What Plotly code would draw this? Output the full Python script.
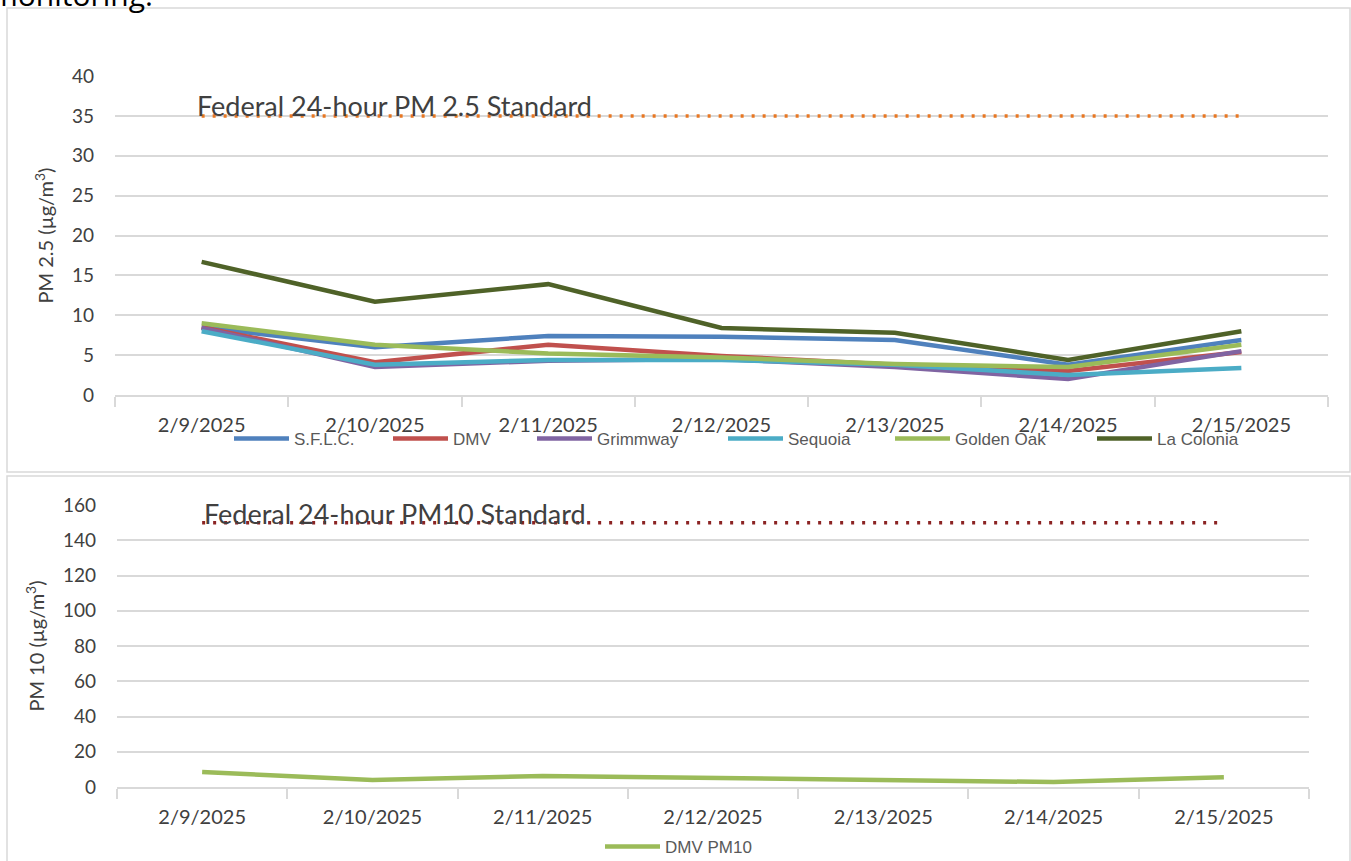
import plotly.graph_objects as go

# ---------------- data ----------------
dates = ["2/9/2025", "2/10/2025", "2/11/2025", "2/12/2025", "2/13/2025", "2/14/2025", "2/15/2025"]
sflc = [8.5, 6.0, 7.4, 7.3, 6.9, 3.8, 6.9]
dmv = [8.5, 4.1, 6.3, 4.9, 3.8, 3.0, 5.4]
grimmway = [8.4, 3.5, 4.3, 4.5, 3.5, 2.0, 5.5]
sequoia = [8.0, 3.8, 4.4, 4.4, 3.8, 2.5, 3.4]
golden_oak = [9.0, 6.3, 5.2, 4.7, 3.9, 3.5, 6.3]
la_colonia = [16.7, 11.7, 13.9, 8.4, 7.8, 4.4, 8.0]
pm25_standard = [35, 35, 35, 35, 35, 35, 35]
dmv_pm10 = [8.5, 4.0, 6.3, 5.0, 4.3, 2.8, 5.5]
pm10_standard = [150, 150, 150, 150, 150, 150, 150]

series_names = ["S.F.L.C.", "DMV", "Grimmway", "Sequoia", "Golden Oak", "La Colonia"]
series_values = [sflc, dmv, grimmway, sequoia, golden_oak, la_colonia]
series_colors = ["#4F81BD", "#C0504D", "#8064A2", "#4BACC6", "#9BBB59", "#4F6228"]
legend_x_px = [229, 388, 532, 723, 890, 1092]

W, H = 1351, 861
def px(x):
    return x / W
def py(y):
    return 1 - y / H

GRID = "#D9D9D9"
TXT = "#595959"
FONT = "Lato, Open Sans, sans-serif"
NARROW = "Liberation Sans Narrow, Liberation Sans, sans-serif"

fig = go.Figure()

# top chart
fig.add_trace(go.Scatter(x=dates, y=pm25_standard, mode="lines", showlegend=False,
                         line=dict(color="#E87722", width=3.5, dash="3px,8px"),
                         xaxis="x", yaxis="y", hoverinfo="skip"))
for i, (n, v, c) in enumerate(zip(series_names, series_values, series_colors)):
    fig.add_trace(go.Scatter(x=dates, y=v, mode="lines", name=n,
                             line=dict(color=c, width=4.5),
                             xaxis="x", yaxis="y",
                             legend="legend" if i == 0 else f"legend{i+1}"))

# bottom chart
fig.add_trace(go.Scatter(x=dates, y=pm10_standard, mode="lines", showlegend=False,
                         line=dict(color="#8B2323", width=3.5, dash="3px,8px"),
                         xaxis="x2", yaxis="y2", hoverinfo="skip"))
fig.add_trace(go.Scatter(x=dates, y=dmv_pm10, mode="lines", name="DMV PM10",
                         line=dict(color="#9BBB59", width=4.5),
                         xaxis="x2", yaxis="y2", legend="legend7"))

axis_common = dict(
    type="category", range=[-0.5, 6.5], showgrid=False, showline=True,
    linecolor=GRID, linewidth=1.5, ticks="outside", tickson="boundaries",
    ticklen=10, tickcolor=GRID, tickwidth=1.5,
    tickfont=dict(family=FONT, size=20, color="#404040"), ticklabelstandoff=11,
    zeroline=False, fixedrange=True, automargin=False,
)

layout = dict(
    width=W, height=H, autosize=False,
    margin=dict(l=0, r=0, t=0, b=0, autoexpand=False),
    paper_bgcolor="white", plot_bgcolor="white",
    xaxis=dict(domain=[px(115), px(1328)], anchor="y", **axis_common),
    yaxis=dict(domain=[py(395), py(76)], anchor="x", range=[0, 40], dtick=5,
               showgrid=True, gridcolor=GRID, gridwidth=1.5, zeroline=False,
               tickfont=dict(family=FONT, size=19, color="#404040"), ticks="",
               ticklabelstandoff=20, automargin=False,
               title=dict(text="PM 2.5 (µg/m<sup>3</sup>)", font=dict(family=FONT, size=20, color="#404040"),
                          standoff=12),
               fixedrange=True),
    xaxis2=dict(domain=[px(117), px(1309)], anchor="y2", **axis_common),
    yaxis2=dict(domain=[py(787), py(505)], anchor="x2", range=[0, 160], dtick=20,
                showgrid=True, gridcolor=GRID, gridwidth=1.5, zeroline=False,
                tickfont=dict(family=FONT, size=19, color="#404040"), ticks="",
                ticklabelstandoff=20, automargin=False,
                title=dict(text="PM 10 (µg/m<sup>3</sup>)", font=dict(family=FONT, size=20, color="#404040"),
                           standoff=12),
                fixedrange=True),
    showlegend=True,
)

for i, xl in enumerate(legend_x_px):
    key = "legend" if i == 0 else f"legend{i+1}"
    layout[key] = dict(orientation="h", x=px(xl), xanchor="left", y=py(439), yanchor="middle",
                       bgcolor="rgba(0,0,0,0)", itemwidth=55,
                       font=dict(family=NARROW, size=17, color=TXT))
layout["legend7"] = dict(orientation="h", x=px(600), xanchor="left", y=py(847), yanchor="middle",
                         bgcolor="rgba(0,0,0,0)", itemwidth=55,
                         font=dict(family=NARROW, size=17, color=TXT))

fig.update_layout(**layout)

# panel borders
fig.add_shape(type="rect", xref="paper", yref="paper", x0=px(7), x1=px(1350), y0=py(472), y1=py(8),
              line=dict(color=GRID, width=1.5), fillcolor="rgba(0,0,0,0)", layer="below")
fig.add_shape(type="rect", xref="paper", yref="paper", x0=px(7), x1=px(1350), y0=py(866), y1=py(476),
              line=dict(color=GRID, width=1.5), fillcolor="rgba(0,0,0,0)", layer="below")

# annotations
fig.add_annotation(text="Federal 24-hour PM 2.5 Standard", xref="paper", yref="paper",
                   x=px(195), y=py(106), xanchor="left", yanchor="middle", showarrow=False,
                   font=dict(family=FONT, size=27, color="#404040"))
fig.add_annotation(text="Federal 24-hour PM10 Standard", xref="paper", yref="paper",
                   x=px(202), y=py(513), xanchor="left", yanchor="middle", showarrow=False,
                   font=dict(family=FONT, size=27, color="#404040"))
fig.add_annotation(text="monitoring.", xref="paper", yref="paper",
                   x=px(-12), y=py(17), xanchor="left", yanchor="bottom", showarrow=False,
                   font=dict(family="Open Sans, sans-serif", size=30, color="#000000"))

fig.write_html("out.html", config={"displayModeBar": False},
               post_script="document.body.style.margin='0';")
